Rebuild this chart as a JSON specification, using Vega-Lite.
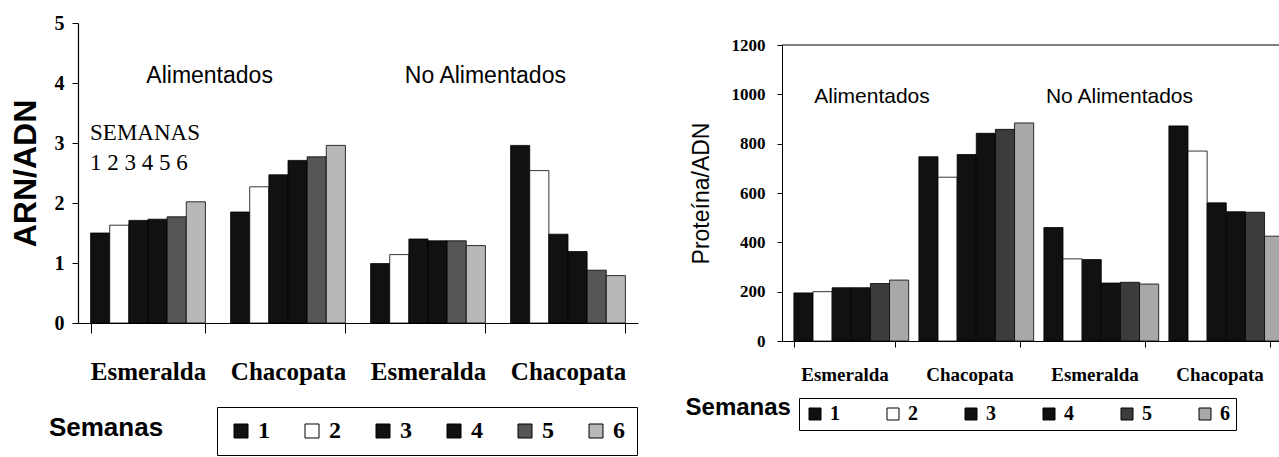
{
  "$schema": "https://vega.github.io/schema/vega-lite/v6.json",
  "background": "white",
  "padding": {"left": 9, "top": 13, "right": 0, "bottom": 0},
  "spacing": 47,
  "config": {
    "view": {"stroke": null},
    "axis": {"domainColor": "black", "tickColor": "black", "labelColor": "black", "titleColor": "black", "grid": false}
  },
  "datasets": {
    "arn": [
      {"grupo": "Alimentados|Esmeralda", "semana": "1", "valor": 1.50},
      {"grupo": "Alimentados|Esmeralda", "semana": "2", "valor": 1.63},
      {"grupo": "Alimentados|Esmeralda", "semana": "3", "valor": 1.71},
      {"grupo": "Alimentados|Esmeralda", "semana": "4", "valor": 1.73},
      {"grupo": "Alimentados|Esmeralda", "semana": "5", "valor": 1.77},
      {"grupo": "Alimentados|Esmeralda", "semana": "6", "valor": 2.02},
      {"grupo": "Alimentados|Chacopata", "semana": "1", "valor": 1.85},
      {"grupo": "Alimentados|Chacopata", "semana": "2", "valor": 2.27},
      {"grupo": "Alimentados|Chacopata", "semana": "3", "valor": 2.47},
      {"grupo": "Alimentados|Chacopata", "semana": "4", "valor": 2.71},
      {"grupo": "Alimentados|Chacopata", "semana": "5", "valor": 2.77},
      {"grupo": "Alimentados|Chacopata", "semana": "6", "valor": 2.96},
      {"grupo": "No Alimentados|Esmeralda", "semana": "1", "valor": 0.99},
      {"grupo": "No Alimentados|Esmeralda", "semana": "2", "valor": 1.14},
      {"grupo": "No Alimentados|Esmeralda", "semana": "3", "valor": 1.40},
      {"grupo": "No Alimentados|Esmeralda", "semana": "4", "valor": 1.37},
      {"grupo": "No Alimentados|Esmeralda", "semana": "5", "valor": 1.37},
      {"grupo": "No Alimentados|Esmeralda", "semana": "6", "valor": 1.29},
      {"grupo": "No Alimentados|Chacopata", "semana": "1", "valor": 2.96},
      {"grupo": "No Alimentados|Chacopata", "semana": "2", "valor": 2.54},
      {"grupo": "No Alimentados|Chacopata", "semana": "3", "valor": 1.48},
      {"grupo": "No Alimentados|Chacopata", "semana": "4", "valor": 1.19},
      {"grupo": "No Alimentados|Chacopata", "semana": "5", "valor": 0.88},
      {"grupo": "No Alimentados|Chacopata", "semana": "6", "valor": 0.79}
    ],
    "prot": [
      {"grupo": "Alimentados|Esmeralda", "semana": "1", "valor": 195},
      {"grupo": "Alimentados|Esmeralda", "semana": "2", "valor": 200},
      {"grupo": "Alimentados|Esmeralda", "semana": "3", "valor": 216},
      {"grupo": "Alimentados|Esmeralda", "semana": "4", "valor": 216},
      {"grupo": "Alimentados|Esmeralda", "semana": "5", "valor": 233},
      {"grupo": "Alimentados|Esmeralda", "semana": "6", "valor": 247},
      {"grupo": "Alimentados|Chacopata", "semana": "1", "valor": 747},
      {"grupo": "Alimentados|Chacopata", "semana": "2", "valor": 664},
      {"grupo": "Alimentados|Chacopata", "semana": "3", "valor": 756},
      {"grupo": "Alimentados|Chacopata", "semana": "4", "valor": 842},
      {"grupo": "Alimentados|Chacopata", "semana": "5", "valor": 858},
      {"grupo": "Alimentados|Chacopata", "semana": "6", "valor": 884},
      {"grupo": "No Alimentados|Esmeralda", "semana": "1", "valor": 460},
      {"grupo": "No Alimentados|Esmeralda", "semana": "2", "valor": 333},
      {"grupo": "No Alimentados|Esmeralda", "semana": "3", "valor": 330},
      {"grupo": "No Alimentados|Esmeralda", "semana": "4", "valor": 235},
      {"grupo": "No Alimentados|Esmeralda", "semana": "5", "valor": 238},
      {"grupo": "No Alimentados|Esmeralda", "semana": "6", "valor": 231},
      {"grupo": "No Alimentados|Chacopata", "semana": "1", "valor": 872},
      {"grupo": "No Alimentados|Chacopata", "semana": "2", "valor": 770},
      {"grupo": "No Alimentados|Chacopata", "semana": "3", "valor": 560},
      {"grupo": "No Alimentados|Chacopata", "semana": "4", "valor": 524},
      {"grupo": "No Alimentados|Chacopata", "semana": "5", "valor": 522},
      {"grupo": "No Alimentados|Chacopata", "semana": "6", "valor": 425}
    ]
  },
  "resolve": {"scale": {"color": "independent"}, "legend": {"color": "independent"}},
  "hconcat": [
    {
      "width": 560,
      "height": 300,
      "resolve": {"scale": {"x": "independent"}},
      "layer": [
        {
          "data": {"name": "arn"},
          "mark": {"type": "bar", "stroke": "black", "strokeWidth": 0.8},
          "encoding": {
            "x": {
              "field": "grupo", "type": "nominal",
              "scale": {"domain": ["Alimentados|Esmeralda", "Alimentados|Chacopata", "No Alimentados|Esmeralda", "No Alimentados|Chacopata"], "paddingInner": 0.18, "paddingOuter": 0.09},
              "axis": {"title": null, "labelExpr": "split(datum.label, '|')[1]", "labelAngle": 0, "labelFont": "Liberation Serif", "labelFontWeight": "bold", "labelFontSize": 25, "labelPadding": 26, "tickBand": "extent", "tickSize": 10, "domainWidth": 1.2}
            },
            "xOffset": {"field": "semana", "type": "nominal", "scale": {"paddingInner": 0, "paddingOuter": 0}},
            "y": {
              "field": "valor", "type": "quantitative",
              "scale": {"domain": [0, 5], "nice": false},
              "axis": {"title": "ARN/ADN", "values": [0, 1, 2, 3, 4, 5], "format": "d", "labelFont": "Liberation Serif", "labelFontWeight": "bold", "labelFontSize": 20, "labelPadding": 8, "tickSize": 6, "titleFont": "Liberation Sans", "titleFontWeight": "bold", "titleFontSize": 32, "titlePadding": 12, "domainWidth": 1.2}
            },
            "color": {
              "field": "semana", "type": "nominal",
              "scale": {"domain": ["1", "2", "3", "4", "5", "6"], "range": ["#111111", "#ffffff", "#111111", "#111111", "#555555", "#b8b8b8"]},
              "legend": {"title": null, "orient": "none", "legendX": 139, "legendY": 384, "direction": "horizontal", "columns": 6, "symbolType": "square", "symbolSize": 196, "symbolStrokeColor": "black", "symbolStrokeWidth": 1, "labelFont": "Liberation Serif", "labelFontWeight": "bold", "labelFontSize": 24, "labelColor": "black", "labelOffset": 5, "columnPadding": 30, "padding": 12, "strokeColor": "black"}
            }
          }
        },
        {
          "data": {"values": [
            {"x": 0.94, "valor": 4.12, "texto": "Alimentados"},
            {"x": 2.91, "valor": 4.12, "texto": "No Alimentados"}
          ]},
          "mark": {"type": "text", "font": "Liberation Sans", "fontSize": 23, "align": "center", "baseline": "middle", "color": "black"},
          "encoding": {
            "x": {"field": "x", "type": "quantitative", "scale": {"domain": [0, 4], "nice": false, "zero": false}, "axis": null},
            "y": {"field": "valor", "type": "quantitative", "scale": {"domain": [0, 5], "nice": false}},
            "text": {"field": "texto"}
          }
        },
        {
          "data": {"values": [
            {"x": 0.086, "valor": 3.17, "texto": "SEMANAS"},
            {"x": 0.086, "valor": 2.67, "texto": "1 2 3 4 5 6"}
          ]},
          "mark": {"type": "text", "font": "Liberation Serif", "fontSize": 23, "align": "left", "baseline": "middle", "color": "black"},
          "encoding": {
            "x": {"field": "x", "type": "quantitative", "scale": {"domain": [0, 4], "nice": false, "zero": false}, "axis": null},
            "y": {"field": "valor", "type": "quantitative", "scale": {"domain": [0, 5], "nice": false}},
            "text": {"field": "texto"}
          }
        },
        {
          "data": {"values": [
            {"x": 0.2, "valor": -1.75, "texto": "Semanas"}
          ]},
          "mark": {"type": "text", "font": "Liberation Sans", "fontWeight": "bold", "fontSize": 26, "align": "center", "baseline": "middle", "color": "black"},
          "encoding": {
            "x": {"field": "x", "type": "quantitative", "scale": {"domain": [0, 4], "nice": false, "zero": false}, "axis": null},
            "y": {"field": "valor", "type": "quantitative", "scale": {"domain": [0, 5], "nice": false}},
            "text": {"field": "texto"}
          }
        }
      ]
    },
    {
      "width": 500,
      "height": 318,
      "resolve": {"scale": {"x": "independent"}},
      "layer": [
        {
          "data": {"name": "prot"},
          "mark": {"type": "bar", "stroke": "black", "strokeWidth": 0.8},
          "encoding": {
            "x": {
              "field": "grupo", "type": "nominal",
              "scale": {"domain": ["Alimentados|Esmeralda", "Alimentados|Chacopata", "No Alimentados|Esmeralda", "No Alimentados|Chacopata"], "paddingInner": 0.19, "paddingOuter": 0.095},
              "axis": {"title": null, "labelExpr": "split(datum.label, '|')[1]", "labelAngle": 0, "labelFont": "Liberation Serif", "labelFontWeight": "bold", "labelFontSize": 19, "labelPadding": 18, "tickBand": "extent", "tickSize": 6}
            },
            "xOffset": {"field": "semana", "type": "nominal", "scale": {"paddingInner": 0, "paddingOuter": 0}},
            "y": {
              "field": "valor", "type": "quantitative",
              "scale": {"domain": [0, 1200], "nice": false, "range": [318, 22]},
              "axis": {"title": "Proteína/ADN", "values": [0, 200, 400, 600, 800, 1000, 1200], "format": "d", "labelFont": "Liberation Serif", "labelFontWeight": "bold", "labelFontSize": 17, "labelPadding": 12, "tickSize": 5, "titleFont": "Liberation Sans", "titleFontWeight": "normal", "titleFontSize": 23, "titlePadding": 18}
            },
            "color": {
              "field": "semana", "type": "nominal",
              "scale": {"domain": ["1", "2", "3", "4", "5", "6"], "range": ["#111111", "#ffffff", "#111111", "#111111", "#3c3c3c", "#a8a8a8"]},
              "legend": {"title": null, "orient": "none", "legendX": 17, "legendY": 375, "direction": "horizontal", "columns": 6, "symbolType": "square", "symbolSize": 144, "symbolStrokeColor": "black", "symbolStrokeWidth": 1, "labelFont": "Liberation Serif", "labelFontWeight": "bold", "labelFontSize": 20, "labelColor": "black", "labelOffset": 5, "columnPadding": 43, "padding": 6, "strokeColor": "black"}
            }
          }
        },
        {
          "data": {"values": [{"valor": 1200}]},
          "mark": {"type": "rule", "color": "black", "strokeWidth": 1},
          "encoding": {
            "y": {"field": "valor", "type": "quantitative", "scale": {"domain": [0, 1200], "nice": false, "range": [318, 22]}}
          }
        },
        {
          "data": {"values": [
            {"x": 0.72, "valor": 989, "texto": "Alimentados"},
            {"x": 2.7, "valor": 989, "texto": "No Alimentados"}
          ]},
          "mark": {"type": "text", "font": "Liberation Sans", "fontSize": 21, "align": "center", "baseline": "middle", "color": "black"},
          "encoding": {
            "x": {"field": "x", "type": "quantitative", "scale": {"domain": [0, 4], "nice": false, "zero": false}, "axis": null},
            "y": {"field": "valor", "type": "quantitative", "scale": {"domain": [0, 1200], "nice": false, "range": [318, 22]}},
            "text": {"field": "texto"}
          }
        },
        {
          "data": {"values": [
            {"x": -0.35, "valor": -272, "texto": "Semanas"}
          ]},
          "mark": {"type": "text", "font": "Liberation Sans", "fontWeight": "bold", "fontSize": 24, "align": "center", "baseline": "middle", "color": "black"},
          "encoding": {
            "x": {"field": "x", "type": "quantitative", "scale": {"domain": [0, 4], "nice": false, "zero": false}, "axis": null},
            "y": {"field": "valor", "type": "quantitative", "scale": {"domain": [0, 1200], "nice": false, "range": [318, 22]}},
            "text": {"field": "texto"}
          }
        }
      ]
    }
  ]
}
